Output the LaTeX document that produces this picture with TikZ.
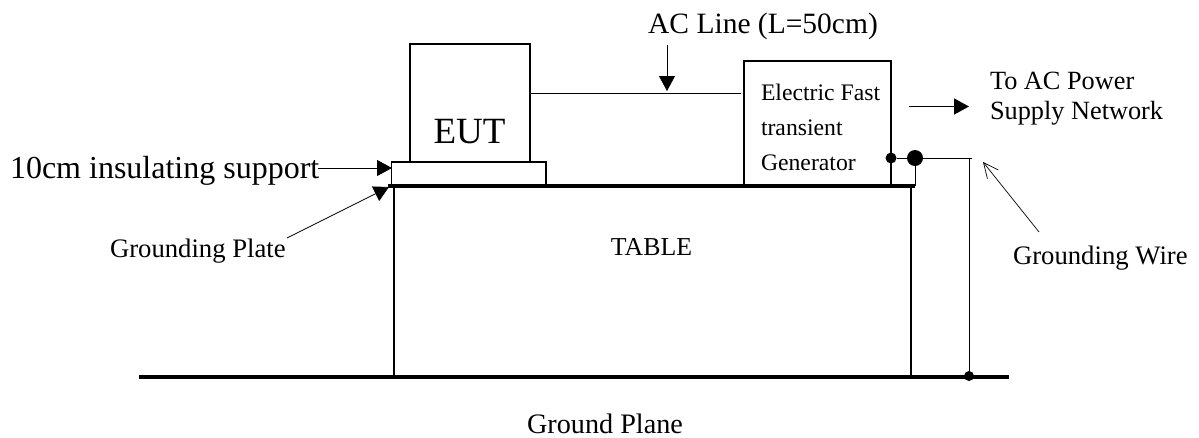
\documentclass[tikz,border=0pt]{standalone}
\usepackage{fontspec}
\setmainfont{Liberation Serif}
\usetikzlibrary{arrows.meta}
\tikzset{
  boxshape/.style={draw=black,line width=1.6pt,fill=white,inner sep=0pt,outer sep=0pt},
  txt/.style={inner sep=0pt,outer sep=0pt,font=\fontsize{#1}{#1}\selectfont,align=left},
  thinline/.style={draw=black,line width=1pt},
  midline/.style={draw=black,line width=1.6pt},
  solidhead/.style={-{Triangle[length=15pt,width=16pt]}},
  openhead/.style={-{Straight Barb[length=15pt,width=14pt,line width=0.7pt]},line width=0.7pt},
  dot/.style={circle,fill=black,inner sep=0pt,minimum size=#1}
}
\begin{document}
\begin{tikzpicture}[x=1pt,y=-1pt]
\useasboundingbox (0,0) rectangle (1199,437);
% table and plates
\node[boxshape,minimum width=517pt,minimum height=190pt,anchor=north west] (table) at (394,186) {};
\node[boxshape,line width=1.2pt,minimum width=154.5pt,minimum height=24pt,anchor=north west] (support) at (391.5,162) {};
\node[boxshape,minimum width=120pt,minimum height=118pt,anchor=north west] (eut) at (410,44) {};
\node[txt=37,anchor=base] (euttext) at (469.5,143) {EUT};
\node[boxshape,minimum width=147pt,minimum height=125pt,anchor=north west] (gen) at (744,61) {};
\node[txt=23.7,anchor=base west] (gentextA) at (761,100.7) {Electric Fast};
\node[txt=23.7,anchor=base west] (gentextB) at (761,135) {transient};
\node[txt=23.7,anchor=base west] (gentextC) at (761,170) {Generator};
\coordinate (plateL) at (388,186);
\coordinate (plateR) at (915,186);
\draw[line width=3.5pt] (plateL) -- (plateR);
\coordinate (gndL) at (139,376.5);
\coordinate (gndR) at (1009,376.5);
\draw[line width=4pt] (gndL) -- (gndR);
% AC line
\coordinate (acEnd) at (741,93.3);
\coordinate (acStart) at (530,93.3);
\draw[midline] (acStart) -- (acEnd);
\node[txt=29.5,anchor=base] (aclabel) at (763,33) {AC Line (L=50cm)};
\coordinate (acTop) at (667,45);
\coordinate (acHit) at (667,91);
\draw[line width=0.9pt,solidhead] (acTop) -- (acHit);
% power arrow
\coordinate (pwA) at (909,106.5);
\coordinate (pwB) at (969,106.5);
\draw[midline,solidhead] (pwA) -- (pwB);
\node[txt=26.3,anchor=base west] (pwlabelA) at (990,89) {To AC Power};
\node[txt=26.3,anchor=base west] (pwlabelB) at (990,119) {Supply Network};
% grounding
\node[dot=11pt] (smalldot) at (891,158) {};
\node[dot=16pt] (bigdot) at (915,158) {};
\node[dot=10pt] (gnddot) at (969,376) {};
\coordinate (corner) at (969,158);
\coordinate (wireEnd) at (972,158);
\draw[thinline] (smalldot) -- (bigdot);
\draw[thinline] (bigdot) -- (wireEnd);
\draw[thinline] (corner) -- (gnddot);
\coordinate (plateTap) at (915,186);
\draw[line width=0.8pt] (bigdot) -- (plateTap);
\coordinate (gwA) at (1039,232);
\coordinate (gwB) at (983,162);
\draw[openhead] (gwA) -- (gwB);
\node[txt=26.7,anchor=base west] (gwlabel) at (1013,264) {Grounding Wire};
% left labels
\node[txt=32,anchor=base west] (inslabel) at (10,178) {10cm insulating support};
\coordinate (insA) at (318,168);
\coordinate (insHit) at (392,168);
\draw[line width=0.8pt,solidhead] (insA) -- (insHit);
\node[txt=26.7,anchor=base west] (gplabel) at (110,257) {Grounding Plate};
\coordinate (gpA) at (287,238);
\coordinate (gpHit) at (389,187);
\draw[line width=0.8pt,solidhead] (gpA) -- (gpHit);
\node[txt=25.8,anchor=base] (tablelabel) at (651.5,255) {TABLE};
\node[txt=28.2,anchor=base] (gplane) at (605,433) {Ground Plane};
\end{tikzpicture}
\end{document}
